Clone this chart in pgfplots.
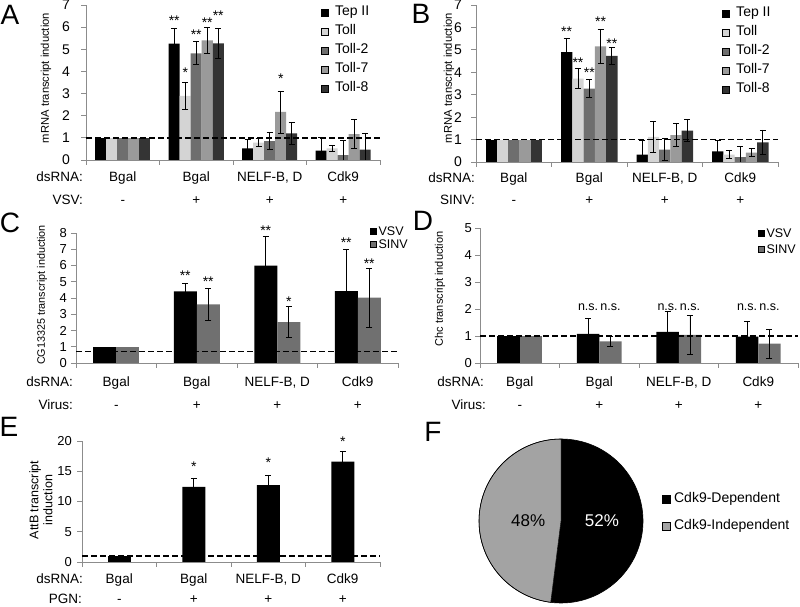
\documentclass[border=0pt]{standalone}
\usepackage{pgfplots}
\pgfplotsset{compat=1.18}
\usepackage{pgfplotstable}
\usepackage{fontspec}
\setmainfont{Liberation Sans}
\definecolor{cToll}{HTML}{D4D4D4}
\definecolor{cTollb}{HTML}{6E6E6E}
\definecolor{cTollc}{HTML}{9A9A9A}
\definecolor{cTolld}{HTML}{343434}
\definecolor{cSINV}{HTML}{707070}
\definecolor{cAxis}{HTML}{8C8C8C}
\definecolor{cPie}{HTML}{A3A3A3}
\newcommand{\fs}[1]{\fontsize{#1}{#1}\selectfont}

\pgfplotstableread{
x tep tepE toll tollE tollb tollbE tollc tollcE tolld tolldE
0 1 0 1 0 1 0 1 0 1 0
1 5.25 0.70 2.90 0.60 4.82 0.52 5.40 0.57 5.27 0.68
2 0.53 0.40 0.78 0.18 0.85 0.38 2.17 0.95 1.20 0.50
3 0.42 0.58 0.52 0.15 0.22 0.66 1.17 0.66 0.47 0.75
}\dataA
\pgfplotstableread{
x tep tepE toll tollE tollb tollbE tollc tollcE tolld tolldE
0 1 0 1 0 1 0 1 0 1 0
1 4.90 0.60 3.72 0.45 3.27 0.40 5.15 0.76 4.73 0.39
2 0.33 0.63 1.12 0.67 0.55 0.50 1.20 0.51 1.40 0.50
3 0.47 0.50 0.33 0.17 0.22 0.46 0.42 0.19 0.88 0.55
}\dataB
\pgfplotstableread{
x vsv vsvE sinv sinvE
0 1 0 1 0
1 4.40 0.50 3.60 1.00
2 6.00 1.80 2.52 0.96
3 4.42 2.58 4.03 1.82
}\dataC
\pgfplotstableread{
x vsv vsvE sinv sinvE
0 1 0 1 0
1 1.08 0.57 0.80 0.17
2 1.15 0.75 1.04 0.72
3 0.98 0.57 0.72 0.54
}\dataD
\pgfplotstableread{
x attb attbE
0 1.0 0
1 12.4 1.5
2 12.7 1.7
3 16.6 1.7
}\dataE
\def\pDep{52}
\def\pIndep{48}

\pgfplotsset{
  panel/.style={scale only axis, anchor=south west, clip mode=individual,
    axis lines*=left, axis line style={cAxis, line width=0.8pt},
    xmin=-0.5, xmax=3.5, ymin=0,
    xtick={-0.5,0.5,1.5,2.5,3.5}, xticklabels={},
    tick align=outside, major tick length=5pt,
    every tick/.style={cAxis, line width=0.8pt},
    /pgf/number format/assume math mode=true,
    yticklabel style={inner sep=0pt, black},
    legend cell align=left},
  errb/.style={error bars/.cd, y dir=both, y explicit,
    error bar style={draw=black, line width=0.75pt, solid, xshift=#1},
    error mark options={draw=black, rotate=90, mark size=3pt, line width=0.75pt}},
  sqleg/.style={legend image code/.code={\fill[##1] (0pt,-#1/2) rectangle (#1,#1/2);}},
  dashline/.style={black, line width=1.3pt, dash pattern=on 5.5pt off 3.5pt},
}

\newcommand{\bars}[5]{%
  \addplot[ybar, bar shift=#4, fill=#5, draw=none, forget plot, skip coords between index={1}{4}] table[x=x,y=#2]{#1};
  \addplot[ybar, bar shift=#4, fill=#5, draw=none, forget plot, skip coords between index={0}{1}, errb=#4] table[x=x,y=#2,y error=#3]{#1};
}
\newcommand{\st}[4]{\node[anchor=base, font=\fs{14}, xshift=#3, yshift=-8pt, inner sep=0pt] at (axis cs:#1,#2) {#4};}
\newcommand{\ns}[3]{\node[anchor=base, font=\fs{12.5}, xshift=#3, yshift=-3pt, inner sep=0pt] at (axis cs:#1,#2) {n.s.};}
\newcommand{\lab}[3]{\node[anchor=base, font=\fs{13.5}, yshift=#2, inner sep=0pt] at (axis cs:#1,0) {#3};}
\newcommand{\llab}[3]{\node[anchor=base east, font=\fs{13.5}, xshift=#1, yshift=#2, inner sep=0pt] at (rel axis cs:0,0) {#3};}

\begin{document}
\begin{tikzpicture}[x=1pt,y=1pt]
\useasboundingbox (0,0) rectangle (800,607);

% ---------------- Panel A
\begin{axis}[panel, at={(86pt,447pt)}, width=294pt, height=155pt,
  ymax=7, ytick={0,...,7}, yticklabel style={font=\fs{14}, xshift=-11pt},
  bar width=11pt, sqleg=7pt,
  legend style={at={(0.799,1.006)}, anchor=north west, draw=none, fill=none,
    font=\fs{14}, inner sep=0pt, row sep=3pt, column sep=5pt,
    nodes={inner sep=1.5pt, text height=10pt, text depth=3pt}}]
\bars{\dataA}{tep}{tepE}{-22pt}{black}
\bars{\dataA}{toll}{tollE}{-11pt}{cToll}
\bars{\dataA}{tollb}{tollbE}{0pt}{cTollb}
\bars{\dataA}{tollc}{tollcE}{11pt}{cTollc}
\bars{\dataA}{tolld}{tolldE}{22pt}{cTolld}
\addplot[dashline, forget plot] coordinates {(-0.5,1) (3.5,1)};
\addlegendimage{fill=black}\addlegendentry{Tep II}
\addlegendimage{fill=cToll}\addlegendentry{Toll}
\addlegendimage{fill=cTollb}\addlegendentry{Toll-2}
\addlegendimage{fill=cTollc}\addlegendentry{Toll-7}
\addlegendimage{fill=cTolld}\addlegendentry{Toll-8}
\st{1}{6.42}{-22pt}{**}
\st{1}{4.07}{-11pt}{*}
\st{1}{5.80}{0pt}{**}
\st{1}{6.33}{11pt}{**}
\st{1}{6.65}{22pt}{**}
\st{2}{3.80}{11pt}{*}
\lab{0}{-22pt}{Bgal}\lab{1}{-22pt}{Bgal}\lab{2}{-22pt}{NELF-B, D}\lab{3}{-22pt}{Cdk9}
\lab{0}{-45pt}{-}\lab{1}{-45pt}{+}\lab{2}{-45pt}{+}\lab{3}{-45pt}{+}
\llab{-3pt}{-22pt}{dsRNA:}\llab{-3pt}{-45pt}{VSV:}
\end{axis}

% ---------------- Panel B
\begin{axis}[panel, at={(476pt,445pt)}, width=302pt, height=157pt,
  ymax=7, ytick={0,...,7}, yticklabel style={font=\fs{14}, xshift=-9pt},
  bar width=11.3pt, sqleg=7pt,
  legend style={at={(0.815,1.0)}, anchor=north west, draw=none, fill=none,
    font=\fs{14}, inner sep=0pt, row sep=3pt, column sep=5pt,
    nodes={inner sep=1.5pt, text height=10pt, text depth=3pt}}]
\bars{\dataB}{tep}{tepE}{-22.6pt}{black}
\bars{\dataB}{toll}{tollE}{-11.3pt}{cToll}
\bars{\dataB}{tollb}{tollbE}{0pt}{cTollb}
\bars{\dataB}{tollc}{tollcE}{11.3pt}{cTollc}
\bars{\dataB}{tolld}{tolldE}{22.6pt}{cTolld}
\addplot[dashline, forget plot] coordinates {(-0.5,1) (3.5,1)};
\addlegendimage{fill=black}\addlegendentry{Tep II}
\addlegendimage{fill=cToll}\addlegendentry{Toll}
\addlegendimage{fill=cTollb}\addlegendentry{Toll-2}
\addlegendimage{fill=cTollc}\addlegendentry{Toll-7}
\addlegendimage{fill=cTolld}\addlegendentry{Toll-8}
\st{1}{5.96}{-22.6pt}{**}
\st{1}{4.58}{-11.3pt}{**}
\st{1}{4.11}{0pt}{**}
\st{1}{6.41}{11.3pt}{**}
\st{1}{5.42}{22.6pt}{**}
\lab{0}{-21pt}{Bgal}\lab{1}{-21pt}{Bgal}\lab{2}{-21pt}{NELF-B, D}\lab{3}{-21pt}{Cdk9}
\lab{0}{-43pt}{-}\lab{1}{-43pt}{+}\lab{2}{-43pt}{+}\lab{3}{-43pt}{+}
\llab{-1pt}{-21pt}{dsRNA:}\llab{-1pt}{-43pt}{SINV:}
\end{axis}

% ---------------- Panel C
\begin{axis}[panel, at={(76pt,244pt)}, width=322pt, height=130pt,
  ymax=8, ytick={0,...,8}, yticklabel style={font=\fs{13}, xshift=-4pt},
  bar width=23pt, sqleg=6pt,
  legend style={at={(0.913,1.058)}, anchor=north west, draw=none, fill=none,
    font=\fs{12.5}, inner sep=0pt, row sep=2pt, column sep=1pt,
    nodes={inner sep=1pt, text height=9pt, text depth=0pt}}]
\bars{\dataC}{vsv}{vsvE}{-11.5pt}{black}
\bars{\dataC}{sinv}{sinvE}{11.5pt}{cSINV}
\addplot[dashline, forget plot] coordinates {(-0.5,0.72) (3.5,0.72)};
\addlegendimage{fill=black}\addlegendentry{VSV}
\addlegendimage{fill=cSINV}\addlegendentry{SINV}
\st{1}{5.59}{-11.5pt}{**}
\st{1}{5.18}{11.5pt}{**}
\st{2}{8.33}{-11.5pt}{**}
\st{2}{3.94}{11.5pt}{*}
\st{3}{7.59}{-11.5pt}{**}
\st{3}{6.31}{11.5pt}{**}
\lab{0}{-24pt}{Bgal}\lab{1}{-24pt}{Bgal}\lab{2}{-24pt}{NELF-B, D}\lab{3}{-24pt}{Cdk9}
\lab{0}{-47pt}{-}\lab{1}{-47pt}{+}\lab{2}{-47pt}{+}\lab{3}{-47pt}{+}
\llab{-3pt}{-24pt}{dsRNA:}\llab{-3pt}{-47pt}{Virus:}
\end{axis}

% ---------------- Panel D
\begin{axis}[panel, at={(480pt,244pt)}, width=318pt, height=135pt,
  ymax=5, ytick={0,...,5}, yticklabel style={font=\fs{13}, xshift=-3pt},
  bar width=22.3pt, sqleg=6pt,
  legend style={at={(0.874,1.004)}, anchor=north west, draw=none, fill=none,
    font=\fs{12.5}, inner sep=0pt, row sep=5pt, column sep=1pt,
    nodes={inner sep=1pt, text height=9pt, text depth=0pt}}]
\bars{\dataD}{vsv}{vsvE}{-11.15pt}{black}
\bars{\dataD}{sinv}{sinvE}{11.15pt}{cSINV}
\addplot[dashline, forget plot] coordinates {(-0.5,1) (3.5,1)};
\addlegendimage{fill=black}\addlegendentry{VSV}
\addlegendimage{fill=cSINV}\addlegendentry{SINV}
\ns{1}{2.04}{-11.15pt}\ns{1}{2.04}{11.15pt}
\ns{2}{2.04}{-11.15pt}\ns{2}{2.04}{11.15pt}
\ns{3}{2.04}{-11.15pt}\ns{3}{2.04}{11.15pt}
\lab{0}{-24pt}{Bgal}\lab{1}{-24pt}{Bgal}\lab{2}{-24pt}{NELF-B, D}\lab{3}{-24pt}{Cdk9}
\lab{0}{-47pt}{-}\lab{1}{-47pt}{+}\lab{2}{-47pt}{+}\lab{3}{-47pt}{+}
\llab{4pt}{-24pt}{dsRNA:}\llab{6pt}{-47pt}{Virus:}
\end{axis}

% ---------------- Panel E
\begin{axis}[panel, at={(82pt,45pt)}, width=298pt, height=121pt,
  ymax=20, ytick={0,5,...,20}, yticklabel style={font=\fs{13}, xshift=-5pt},
  bar width=23pt]
\bars{\dataE}{attb}{attbE}{0pt}{black}
\addplot[dashline, forget plot] coordinates {(-0.5,1) (3.5,1)};
\st{1}{16.3}{0pt}{*}
\st{2}{16.9}{0pt}{*}
\st{3}{20.4}{0pt}{*}
\lab{0}{-22pt}{Bgal}\lab{1}{-22pt}{Bgal}\lab{2}{-22pt}{NELF-B, D}\lab{3}{-22pt}{Cdk9}
\lab{0}{-42pt}{-}\lab{1}{-42pt}{+}\lab{2}{-42pt}{+}\lab{3}{-42pt}{+}
\llab{1pt}{-22pt}{dsRNA:}\llab{0pt}{-42pt}{PGN:}
\end{axis}

% ---------------- Panel F (pie)
\begin{axis}[at={(479pt,4pt)}, anchor=south west, scale only axis,
  width=164pt, height=164pt, hide axis, clip=false,
  xmin=-1, xmax=1, ymin=-1, ymax=1, sqleg=8pt, legend cell align=left,
  legend style={at={(1.116,0.683)}, anchor=north west, draw=none, fill=none,
    font=\fs{14}, inner sep=0pt, row sep=11pt, column sep=2pt,
    nodes={inner sep=1.5pt, text height=10pt, text depth=3pt}}]
\addlegendimage{fill=black}\addlegendentry{Cdk9-Dependent}
\addlegendimage{fill=cPie}\addlegendentry{Cdk9-Independent}
\fill[black] (axis cs:0,0) -- (axis cs:0,1) arc[start angle=90, end angle={90-3.6*\pDep}, radius=82pt] -- cycle;
\filldraw[fill=cPie, draw=black, line width=0.5pt] (axis cs:0,0) -- ++({90-3.6*\pDep}:82pt) arc[start angle={90-3.6*\pDep}, end angle={90-3.6*\pDep-3.6*\pIndep}, radius=82pt] -- cycle;
\draw[black, line width=0.6pt] (axis cs:0,0) circle[radius=82pt];
\node[white, font=\fs{17}] at (axis cs:0.5,0) {\pDep\%};
\node[black, font=\fs{17}] at (axis cs:-0.4,0) {\pIndep\%};
\end{axis}

% ---------------- axis titles and panel letters
\node[rotate=90, font=\fs{11.2}] at (46,529) {mRNA transcript induction};
\node[rotate=90, font=\fs{11.2}] at (449,529) {mRNA transcript induction};
\node[rotate=90, font=\fs{10.8}] at (42,312) {CG13325 transcript induction};
\node[rotate=90, font=\fs{11}] at (440,318) {Chc transcript induction};
\node[rotate=90, font=\fontsize{12.5}{14}\selectfont, align=center] at (41,107) {AttB transcript\\induction};
\node[font=\fs{28}, inner sep=0pt] at (10,592) {A};
\node[font=\fs{28}, inner sep=0pt] at (421,593) {B};
\node[font=\fs{28}, inner sep=0pt] at (10,384) {C};
\node[font=\fs{28}, inner sep=0pt] at (423,386) {D};
\node[font=\fs{28}, inner sep=0pt] at (9,180) {E};
\node[font=\fs{28}, inner sep=0pt] at (433,175) {F};
\end{tikzpicture}
\end{document}
